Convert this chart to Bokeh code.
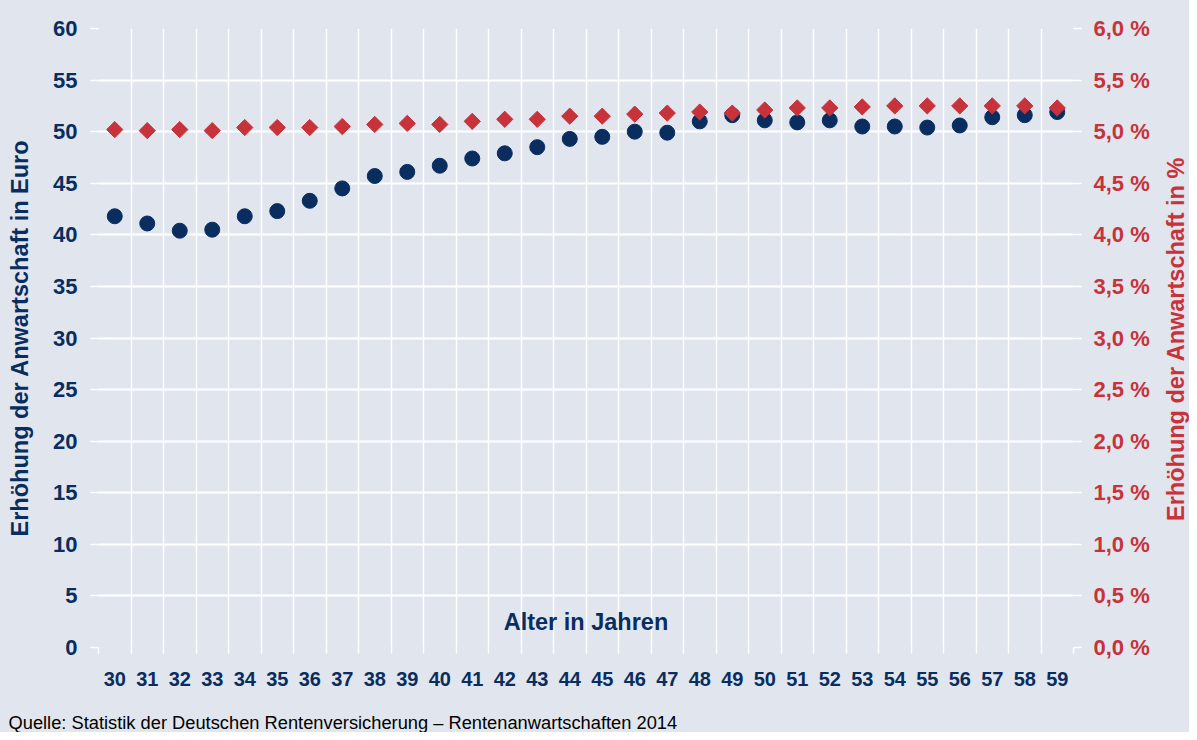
import math
from bokeh.plotting import figure
from bokeh.layouts import row, column
from bokeh.models import Range1d, LinearAxis, FixedTicker, CustomJSTickFormatter, Label
from bokeh.embed import file_html
from bokeh.resources import INLINE

ages = list(range(30, 60))
euro = [41.8, 41.1, 40.4, 40.5, 41.8, 42.3, 43.3, 44.5, 45.7, 46.1, 46.7, 47.4, 47.9, 48.5, 49.3,
        49.5, 50.0, 49.9, 51.0, 51.6, 51.1, 50.9, 51.1, 50.5, 50.5, 50.4, 50.6, 51.4, 51.6, 51.9]
pct = [5.02, 5.01, 5.02, 5.01, 5.04, 5.04, 5.04, 5.05, 5.07, 5.08, 5.07, 5.10, 5.12, 5.12, 5.15,
       5.15, 5.17, 5.18, 5.19, 5.18, 5.21, 5.23, 5.23, 5.24, 5.25, 5.25, 5.25, 5.25, 5.25, 5.23]
euro_ticks = list(range(0, 61, 5))
pct_ticks = [i * 0.5 for i in range(13)]
age_bounds = [a - 0.5 for a in ages] + [ages[-1] + 0.5]

NAVY = "#0A2D5F"
RED = "#C8323A"
BG = "#E1E6EE"
FONT = "Liberation Sans"

MAIN_W, SIDE_W = 1157, 32
MAIN_H, FOOT_H = 710, 22

p = figure(width=MAIN_W, height=MAIN_H, x_range=Range1d(29.5, 59.5), y_range=Range1d(0, 60),
           output_backend="svg", toolbar_location=None,
           min_border_left=98, min_border_right=MAIN_W - 1073, min_border_top=28,
           min_border_bottom=MAIN_H - 647)
p.background_fill_color = BG
p.border_fill_color = BG
p.outline_line_color = None

# x axis
xa = p.xaxis[0]
xa.ticker = FixedTicker(ticks=ages, minor_ticks=age_bounds)
xa.axis_line_color = None
xa.major_tick_line_color = None
xa.minor_tick_line_color = "white"
xa.minor_tick_line_width = 1.5
xa.minor_tick_in = 0
xa.minor_tick_out = 6
xa.major_label_standoff = 18
xa.major_label_text_font = FONT
xa.major_label_text_font_style = "bold"
xa.major_label_text_font_size = "20px"
xa.major_label_text_color = NAVY

# left axis
ya = p.yaxis[0]
ya.ticker = FixedTicker(ticks=euro_ticks)
ya.axis_line_color = None
ya.major_tick_line_color = "white"
ya.major_tick_line_width = 1.5
ya.major_tick_in = 0
ya.major_tick_out = 8
ya.minor_tick_line_color = None
ya.major_label_standoff = 13
ya.major_label_text_font = FONT
ya.major_label_text_font_style = "bold"
ya.major_label_text_font_size = "22px"
ya.major_label_text_color = NAVY
ya.axis_label = "Erhöhung der Anwartschaft in Euro"
ya.axis_label_text_font = FONT
ya.axis_label_text_font_style = "bold"
ya.axis_label_text_font_size = "23.5px"
ya.axis_label_text_color = NAVY
ya.axis_label_standoff = 17

# right axis
p.extra_y_ranges = {"pct": Range1d(0, 6)}
ra = LinearAxis(y_range_name="pct", ticker=FixedTicker(ticks=pct_ticks),
                formatter=CustomJSTickFormatter(code="return tick.toFixed(1).replace('.', ',') + ' %';"))
ra.axis_line_color = None
ra.major_tick_line_color = "white"
ra.major_tick_line_width = 1.5
ra.major_tick_in = 0
ra.major_tick_out = 8
ra.minor_tick_line_color = None
ra.major_label_standoff = 12
ra.major_label_text_font = FONT
ra.major_label_text_font_style = "bold"
ra.major_label_text_font_size = "22px"
ra.major_label_text_color = RED
p.add_layout(ra, "right")

# grids
p.xgrid.ticker = FixedTicker(ticks=age_bounds)
p.xgrid.grid_line_color = "white"
p.xgrid.grid_line_width = 1.5
p.ygrid.ticker = FixedTicker(ticks=euro_ticks)
p.ygrid.grid_line_color = "white"
p.ygrid.grid_line_width = 2

p.scatter(ages, euro, size=15, color=NAVY)
p.scatter(ages, pct, marker="square", angle=0.785398, size=11.5, color=RED, y_range_name="pct")

p.add_layout(Label(x=44.5, y=2.5, text="Alter in Jahren", text_align="center", text_baseline="middle",
                   text_font=FONT, text_font_style="bold", text_font_size="23.5px", text_color=NAVY))


def text_strip(w, h):
    f = figure(width=w, height=h, x_range=Range1d(0, w), y_range=Range1d(0, h),
               x_axis_type=None, y_axis_type=None, output_backend="svg", toolbar_location=None,
               min_border=0)
    f.background_fill_color = BG
    f.border_fill_color = BG
    f.outline_line_color = None
    return f


# right-hand axis title (reads bottom to top)
side = text_strip(SIDE_W, MAIN_H)
side.add_layout(Label(x=18, y=MAIN_H - 356, text="Erhöhung der Anwartschaft in %",
                      angle=math.pi / 2, text_align="center", text_baseline="middle",
                      text_font=FONT, text_font_style="bold", text_font_size="23.5px", text_color=RED))

# source line
foot = text_strip(MAIN_W + SIDE_W, FOOT_H)
foot.add_layout(Label(x=8, y=10.5, text="Quelle: Statistik der Deutschen Rentenversicherung \u2013 Rentenanwartschaften 2014",
                      text_align="left", text_baseline="middle",
                      text_font=FONT, text_font_size="18.3px", text_color="black"))

top = row(p, side, spacing=0, styles={"background-color": BG})
layout = column(top, foot, spacing=0, styles={"background-color": BG})

open("out.html", "w").write(file_html(layout, INLINE))
